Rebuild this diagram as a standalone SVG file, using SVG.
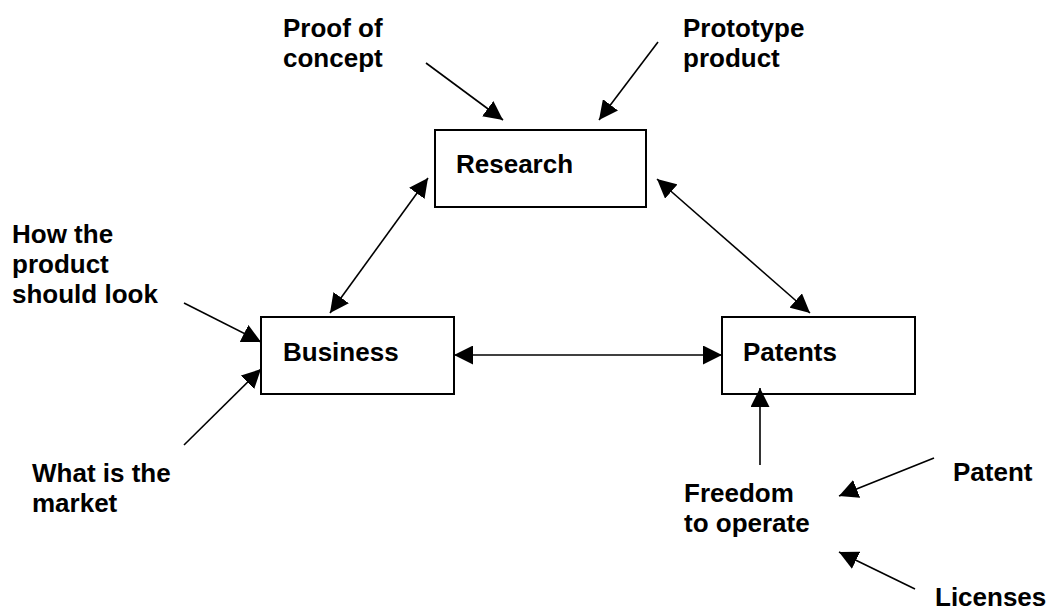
<svg xmlns="http://www.w3.org/2000/svg" width="1049" height="610" viewBox="0 0 1049 610">
  <style>
    .box { fill: #ffffff; stroke: #000000; stroke-width: 2; }
    .lbl { font-family: "Liberation Sans", Arial, sans-serif; font-weight: bold; font-size: 26px; fill: #000000; }
    .link { stroke: #000000; stroke-width: 1.6; fill: none; }
    .one { marker-end: url(#head); }
    .two { marker-start: url(#head); marker-end: url(#head); }
  </style>
  <defs>
    <marker id="head" markerUnits="userSpaceOnUse" markerWidth="19" markerHeight="19" refX="19" refY="9.5" orient="auto-start-reverse">
      <path d="M0,0 L19,9.5 L0,19 Z" fill="#000000"/>
    </marker>
  </defs>
  <rect width="1049" height="610" fill="#ffffff"/>

  <!-- main blocks -->
  <g id="research">
    <rect class="box" x="435" y="130" width="211" height="77"/>
    <text class="lbl" x="456" y="173">Research</text>
  </g>
  <g id="business">
    <rect class="box" x="261" y="317" width="193" height="77"/>
    <text class="lbl" x="283" y="361">Business</text>
  </g>
  <g id="patents">
    <rect class="box" x="722" y="317" width="193" height="77"/>
    <text class="lbl" x="743" y="361">Patents</text>
  </g>

  <!-- input labels -->
  <g id="proof-of-concept">
    <text class="lbl" x="283" y="37">Proof of</text>
    <text class="lbl" x="283" y="67">concept</text>
  </g>
  <g id="prototype-product">
    <text class="lbl" x="683" y="37">Prototype</text>
    <text class="lbl" x="683" y="67">product</text>
  </g>
  <g id="product-look">
    <text class="lbl" x="12" y="243">How the</text>
    <text class="lbl" x="12" y="273">product</text>
    <text class="lbl" x="12" y="303">should look</text>
  </g>
  <g id="market">
    <text class="lbl" x="32" y="482">What is the</text>
    <text class="lbl" x="32" y="512">market</text>
  </g>
  <g id="freedom">
    <text class="lbl" x="684" y="502">Freedom</text>
    <text class="lbl" x="684" y="532">to operate</text>
  </g>
  <g id="patent">
    <text class="lbl" x="953" y="481">Patent</text>
  </g>
  <g id="licenses">
    <text class="lbl" x="935" y="606">Licenses</text>
  </g>

  <!-- connectors -->
  <g id="connectors">
    <line class="link one" x1="426" y1="63" x2="503" y2="120"/>
    <line class="link one" x1="658" y1="42" x2="599" y2="120"/>
    <line class="link two" x1="330" y1="313" x2="428" y2="178"/>
    <line class="link two" x1="657" y1="179" x2="810" y2="313"/>
    <line class="link two" x1="454" y1="355" x2="722" y2="355"/>
    <line class="link one" x1="184" y1="303" x2="261" y2="342"/>
    <line class="link one" x1="184" y1="445" x2="261" y2="369"/>
    <line class="link one" x1="760" y1="465" x2="760" y2="388"/>
    <line class="link one" x1="934" y1="458" x2="839" y2="496"/>
    <line class="link one" x1="915" y1="589" x2="839" y2="552"/>
  </g>
</svg>
